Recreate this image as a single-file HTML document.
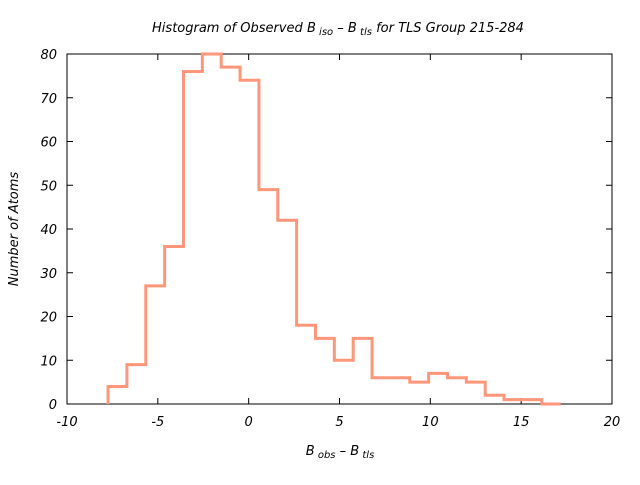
<!DOCTYPE html>
<html><head><meta charset="utf-8"><style>
body{margin:0;background:#fff;}
svg text{font-family:"DejaVu Sans","Liberation Sans",sans-serif;font-style:italic;font-size:13px;fill:#000;}
</style></head><body>
<svg id="chart" width="640" height="480" xmlns="http://www.w3.org/2000/svg">
<rect width="640" height="480" fill="#fff"/>
<text x="338" y="32" text-anchor="middle">Histogram of Observed B<tspan font-size="10" dy="3"> iso</tspan><tspan dy="-3"> – B</tspan><tspan font-size="10" dy="3"> tls</tspan><tspan dy="-3"> for TLS Group 215-284</tspan></text>
<text x="340" y="455" text-anchor="middle">B<tspan font-size="10" dy="3"> obs</tspan><tspan dy="-3"> – B</tspan><tspan font-size="10" dy="3"> tls</tspan></text>
<text transform="translate(18,229) rotate(-90)" text-anchor="middle">Number of Atoms</text>
<g id="axes"></g>
<g id="bars"></g>
</svg>
<script>
const xTicks=[-10,-5,0,5,10,15,20];
const yTicks=[0,10,20,30,40,50,60,70,80];
const binStart=-7.74, binWidth=1.038;
const counts=[4,9,27,36,76,80,77,74,49,42,18,15,10,15,6,6,5,7,6,5,2,1,1,0];
const L=67,R=612,T=54,B=404;
const xs=v=>L+(v+10)/30*(R-L);
const ys=v=>B-v/80*(B-T);
const NS="http://www.w3.org/2000/svg";
const ax=document.getElementById('axes');
function mk(tag,attrs,parent){const e=document.createElementNS(NS,tag);for(const k in attrs)e.setAttribute(k,attrs[k]);parent.appendChild(e);return e;}
const frame=mk('rect',{x:L,y:T,width:R-L,height:B-T,fill:'none',stroke:'#000','stroke-width':1},ax);


xTicks.forEach(t=>{const x=xs(t);
 mk('line',{x1:x,x2:x,y1:B,y2:B-6,stroke:'#000'},ax);mk('line',{x1:x,x2:x,y1:T,y2:T+6,stroke:'#000'},ax);
 const tx=mk('text',{x:x,y:B+22,'text-anchor':'middle'},ax);tx.textContent=t;
 
 });
yTicks.forEach(t=>{const y=ys(t);
 mk('line',{x1:L,x2:L+6,y1:y,y2:y,stroke:'#000'},ax);mk('line',{x1:R,x2:R-6,y1:y,y2:y,stroke:'#000'},ax);
 const tx=mk('text',{x:L-10,y:y+5,'text-anchor':'end'},ax);tx.textContent=t;
 
 });
let d='';
counts.forEach((c,i)=>{const x0=xs(binStart+i*binWidth),x1=xs(binStart+(i+1)*binWidth),y=ys(c);
 d+=(i===0?`M${x0},${B}L${x0},${y}`:`L${x0},${y}`)+`L${x1},${y}`;});
const p=mk('path',{d:d,fill:'none',stroke:'#ff967a','stroke-width':3},document.getElementById('bars'));


</script>
</body></html>
